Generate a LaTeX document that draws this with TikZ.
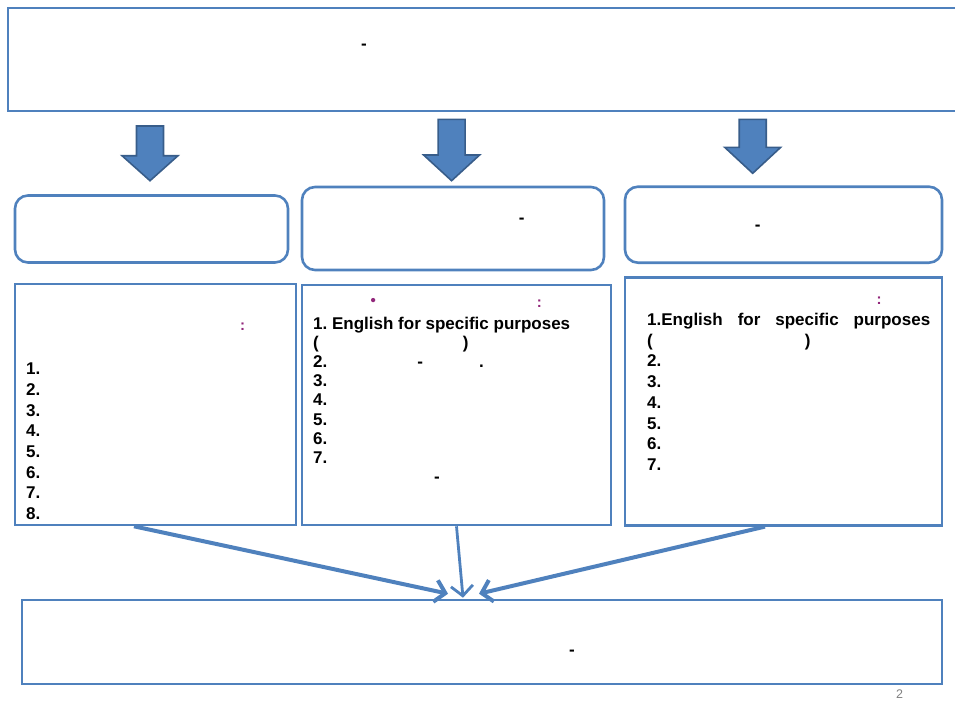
\documentclass[tikz,border=0pt]{standalone}
\usepackage{fontspec}
\setmainfont{Liberation Sans}
\usetikzlibrary{arrows.meta}
\definecolor{frameblue}{RGB}{79,129,189}
\definecolor{frameedge}{RGB}{56,93,138}
\definecolor{notepurple}{RGB}{146,39,123}
\newcommand{\panel}[4][]{\node[panel,#1] at (#2) (#3) {#4}}
\newcommand{\downblock}[4]{\draw[blockarrow] (#1-13.5,#2) -- (#1+13.5,#2) -- (#1+13.5,#3) -- (#1+28,#3) -- (#1,#4) -- (#1-28,#3) -- (#1-13.5,#3) -- cycle}
\frenchspacing
\tikzset{
  panel/.style={draw=frameblue,line width=2.6pt,inner sep=0pt},
  roundpanel/.style={panel,rounded corners=13pt},
  blockarrow/.style={fill=frameblue,draw=frameedge,line width=1.6pt},
  listtext/.style={anchor=north west,align=left,inner sep=0pt,
    font=\bfseries\fontsize{17}{20.7}\selectfont},
  dashmark/.style={inner sep=0pt,font=\bfseries\fontsize{17}{17}\selectfont},
  note/.style={inner sep=0pt,text=notepurple,font=\bfseries\fontsize{15}{15}\selectfont},
  feed/.style={draw=frameblue,line width=4pt,-{Straight Barb[length=10pt,width=22pt]}}
}

\begin{document}
\begin{tikzpicture}[x=1pt,y=-1pt]
  \useasboundingbox (0,0) rectangle (955,702);

  % title and the three headings
  \panel[minimum width=954pt,minimum height=103pt]{485,59.5}{top}{};
  \panel[roundpanel,minimum width=273pt,minimum height=67pt]{151.5,229}{head1}{};
  \panel[roundpanel,minimum width=302pt,minimum height=83pt]{453,228.5}{head2}{};
  \panel[roundpanel,minimum width=317pt,minimum height=76pt]{783.5,224.7}{head3}{};

  \downblock{150}{126}{155.7}{180.7};
  \downblock{451.6}{119.3}{155}{180.7};
  \downblock{752.7}{119.3}{147.3}{173.3};

  % lists
  \panel[minimum width=281pt,minimum height=241pt]{155.5,404.5}{list1}{};
  \panel[minimum width=309pt,minimum height=240pt]{456.5,405}{list2}{};
  \panel[minimum width=317pt,minimum height=248pt]{783.5,401.3}{list3}{};
  \panel[minimum width=920pt,minimum height=84pt]{482,642}{result}{};

  \node[dashmark] (topdash) at (364,47) {-};
  \node[dashmark] (dash2) at (521.7,220.3) {-};
  \node[dashmark] (dash3) at (757.7,227.3) {-};
  \node[dashmark] (resdash) at (572,652.7) {-};

  \node[note] (colon1) at (242.7,326.7) {:};
  \node[note] (dot2) at (373.3,302.3) {•};
  \node[note] (colon2) at (539.3,303.3) {:};
  \node[note] (colon3) at (879,300.7) {:};

  \node[listtext] (items1) at (26,362.7) {1.\\2.\\3.\\4.\\5.\\6.\\7.\\8.};
  \node[listtext,font=\bfseries\fontsize{17}{19.2}\selectfont] (items2) at (313,316.5)
    {1. English for specific purposes\\
     (\hspace{144pt})\\
     2.\hspace{90pt}-\hspace{56pt}.\\
     3.\\4.\\5.\\6.\\7.\\
     \hspace{121pt}-};
  \node[listtext] (items3) at (647,313)
    {\hbox to 283pt{1.English\hfill for\hfill specific\hfill purposes}\\
     (\hspace{152pt})\\
     2.\\3.\\4.\\5.\\6.\\7.};

  \draw[feed] ([xshift=-21.5pt]list1.south) -- ([xshift=-34pt,yshift=5pt]result.north);
  \draw[feed,line width=2.8pt] (list2.south) -- ([xshift=-19pt,yshift=1pt]result.north);
  \draw[feed] ([xshift=-18.5pt]list3.south) -- ([xshift=-3pt,yshift=5pt]result.north);

  \node[text=gray,font=\fontsize{12.5}{12.5}\selectfont] (pageno) at (899.7,694.5) {2};
\end{tikzpicture}
\end{document}
